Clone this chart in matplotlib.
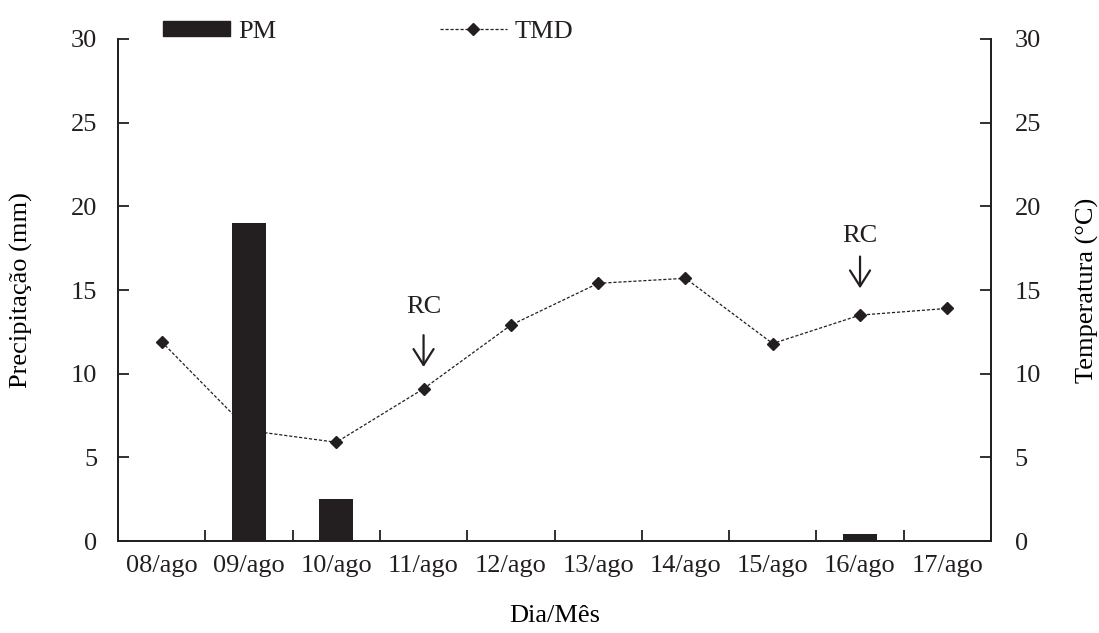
import matplotlib

matplotlib.use("Agg")
import matplotlib.pyplot as plt
from matplotlib.lines import Line2D
from matplotlib.patches import Patch
import numpy as np

DAYS = ["08/ago", "09/ago", "10/ago", "11/ago", "12/ago",
        "13/ago", "14/ago", "15/ago", "16/ago", "17/ago"]
PM = [0, 19.0, 2.5, 0, 0, 0, 0, 0, 0.4, 0]
TMD = [11.9, 6.6, 5.9, 9.1, 12.9, 15.4, 15.7, 11.8, 13.5, 13.9]
RC_DAYS = ["11/ago", "16/ago"]

INK = "#231f20"

plt.rcParams.update({
    "font.family": ["Liberation Serif", "DejaVu Serif"],
    "font.size": 19,
    "axes.edgecolor": INK,
    "xtick.color": INK,
    "ytick.color": INK,
    "text.color": INK,
})

fig = plt.figure(figsize=(10.99, 6.33), dpi=100)
ax = fig.add_axes([0.1074, 0.1453, 0.7943, 0.7931])
ax2 = ax.twinx()

x = np.arange(len(DAYS))

# line drawn on the twin, kept underneath the bars
ax2.plot(x, TMD, color=INK, lw=0.9, ls=(0, (2.5, 1.5)), marker="D", ms=6.5, zorder=2)
ax.bar(x, PM, width=0.39, color=INK, zorder=3)
ax.set_zorder(ax2.get_zorder() + 1)
ax.patch.set_visible(False)

for a in (ax, ax2):
    a.set_xlim(-0.5, len(DAYS) - 0.5)
    a.set_ylim(0, 30)
    a.set_yticks(np.arange(0, 31, 5))
    a.spines["top"].set_visible(False)
    for s in a.spines.values():
        s.set_linewidth(1.3)

ax.set_xticks(x, DAYS)
ax.set_xticks(np.arange(0.5, len(DAYS) - 1, 1), minor=True)
ax.tick_params(axis="x", which="major", length=0, pad=10)
ax.tick_params(axis="x", which="minor", direction="in", length=8, width=1.3)
ax.tick_params(axis="y", direction="in", length=8, width=1.3, pad=15)
ax2.tick_params(axis="y", direction="in", length=8, width=1.3, pad=17)

ax.set_xlabel("Dia/Mês", labelpad=20)
ax.set_ylabel("Precipitação (mm)", labelpad=27)
ax2.set_ylabel("Temperatura (°C)", labelpad=25)

rc_style = {
    11: (10.4, 12.3, 14.0),
    16: (15.1, 17.0, 18.2),
}
for d in RC_DAYS:
    i = DAYS.index(d)
    tip, tail, label_y = rc_style[int(d[:2])]
    ax.annotate("", xy=(i, tip), xytext=(i, tail),
                arrowprops=dict(arrowstyle="->,head_length=0.6,head_width=0.38",
                                color=INK, lw=1.6, shrinkA=0, shrinkB=0))
    ax.text(i, label_y, "RC", ha="center", va="center")

handles = [
    Patch(facecolor=INK, edgecolor=INK, label="PM"),
    Line2D([], [], color=INK, lw=0.9, ls=(0, (2.5, 1.5)), marker="D", ms=6.5, label="TMD"),
]
fig.legend(handles=handles, ncol=2, loc="center left", bbox_to_anchor=(0.148, 0.95),
           frameon=False, handlelength=2.55, handleheight=0.5, handletextpad=0.3,
           columnspacing=6.2, borderaxespad=0, borderpad=0)

fig.savefig("out.png", dpi=100, facecolor="white")
